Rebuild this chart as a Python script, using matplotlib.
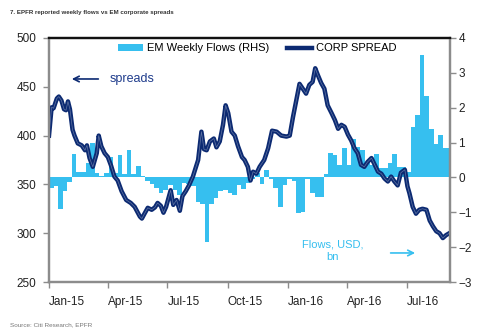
import matplotlib
matplotlib.use("Agg")
import matplotlib.pyplot as plt
import matplotlib.dates as mdates
import pandas as pd
import numpy as np

# ---- data -------------------------------------------------------------
# Weekly EM fund flows, USD bn (right-hand scale); one value per week from 1 Jan 2015
flow_start = "2015-01-01"
weekly_flows = [
    -0.30, -0.25, -0.90, -0.40, -0.12, 0.68, 0.15, 0.15, 0.40, 0.98,
    0.12, 0.03, 0.12, 0.60, 0.12, 0.64, 0.10, 0.80, 0.10, 0.32,
    0.05, -0.10, -0.20, -0.30, -0.45, -0.35, -0.22, -0.35, -0.50, -0.15,
    -0.20, -0.25, -0.70, -0.75, -1.85, -0.75, -0.60, -0.40, -0.36, -0.45,
    -0.50, -0.22, -0.32, -0.17, -0.05, 0.12, -0.18, 0.20, -0.05, -0.30,
    -0.86, -0.22, -0.05, -0.10, -1.02, -0.98, -0.05, -0.45, -0.55, -0.55,
    0.11, 0.70, 0.64, 0.35, 0.84, 0.35, 1.10, 0.86, 0.80, 0.40,
    0.35, 0.68, 0.26, 0.28, 0.40, 0.66, 0.30, 0.30, 0.15, 1.45,
    1.80, 3.50, 2.35, 1.40, 0.95, 1.22, 0.85, 0.85,
]

# EM corporate spread (bp, left-hand scale)
spread_dates = [
    "2015-01-01", "2015-01-05", "2015-01-08", "2015-01-13", "2015-01-16", "2015-01-20",
    "2015-01-24", "2015-01-27", "2015-01-30", "2015-02-02", "2015-02-06", "2015-02-09",
    "2015-02-14", "2015-02-20", "2015-02-25", "2015-02-28", "2015-03-04", "2015-03-09",
    "2015-03-15", "2015-03-18", "2015-03-22", "2015-03-27", "2015-04-01", "2015-04-06",
    "2015-04-11", "2015-04-16", "2015-04-22", "2015-04-29", "2015-05-06", "2015-05-12",
    "2015-05-20", "2015-05-23", "2015-05-27", "2015-06-01", "2015-06-07", "2015-06-12",
    "2015-06-16", "2015-06-21", "2015-06-25", "2015-06-29", "2015-07-06", "2015-07-10",
    "2015-07-15", "2015-07-20", "2015-07-24", "2015-07-29", "2015-08-03", "2015-08-09",
    "2015-08-17", "2015-08-22", "2015-08-26", "2015-08-30", "2015-09-04", "2015-09-10",
    "2015-09-14", "2015-09-19", "2015-09-24", "2015-09-28", "2015-10-02", "2015-10-07",
    "2015-10-12", "2015-10-17", "2015-10-23", "2015-10-27", "2015-11-01", "2015-11-05",
    "2015-11-09", "2015-11-14", "2015-11-19", "2015-11-26", "2015-12-02", "2015-12-08",
    "2015-12-15", "2015-12-22", "2015-12-30", "2016-01-04", "2016-01-09", "2016-01-14",
    "2016-01-19", "2016-01-24", "2016-01-29", "2016-02-03", "2016-02-08", "2016-02-12",
    "2016-02-16", "2016-02-21", "2016-02-26", "2016-03-02", "2016-03-08", "2016-03-13",
    "2016-03-18", "2016-03-23", "2016-03-28", "2016-04-02", "2016-04-07", "2016-04-12",
    "2016-04-17", "2016-04-22", "2016-04-27", "2016-05-02", "2016-05-08", "2016-05-13",
    "2016-05-18", "2016-05-23", "2016-05-28", "2016-06-02", "2016-06-07", "2016-06-12",
    "2016-06-17", "2016-06-22", "2016-06-28", "2016-07-02", "2016-07-05", "2016-07-10",
    "2016-07-15", "2016-07-20", "2016-07-25", "2016-07-31", "2016-08-05", "2016-08-10",
    "2016-08-15", "2016-08-20", "2016-08-25", "2016-08-30", "2016-09-04",
]
spread_values = [
    400, 429, 428, 438, 440, 436,
    427, 426, 435, 427, 406, 400,
    392, 390, 385, 390, 377, 368,
    382, 400, 389, 382, 378, 369,
    358, 354, 343, 334, 331, 327,
    317, 315, 320, 326, 324, 326.5,
    331, 328, 321, 327, 344, 329,
    334, 323, 338, 343, 349, 358,
    375, 404, 386, 385, 394, 397,
    388, 394, 411, 431, 423, 404,
    400, 389, 378, 375, 368, 354,
    363, 361, 368, 375, 387, 405,
    404, 400, 399, 400, 419, 436,
    453, 448, 443, 452, 455, 469,
    462, 454, 448, 431, 423, 416,
    407, 411, 409, 401, 395, 387,
    382, 370, 368, 373, 377, 370,
    363, 361, 356, 353, 358, 353,
    349, 362, 365, 348, 341, 327,
    320, 324, 325, 324, 313, 307,
    302, 300, 295, 298, 300,
]

quarter_ticks = ["2015-01-01", "2015-04-01", "2015-07-01", "2015-10-01",
                 "2016-01-01", "2016-04-01", "2016-07-01"]
quarter_labels = ["Jan-15", "Apr-15", "Jul-15", "Oct-15", "Jan-16", "Apr-16", "Jul-16"]
x_start, x_end = "2015-01-01", "2016-09-05"

# ---- styling ----------------------------------------------------------
BAR_BLUE = "#36BFEF"
NAVY = "#0C2A72"
GREY = "#8C8C8C"
plt.rcParams["font.family"] = ["Liberation Sans", "DejaVu Sans"]

fig = plt.figure(figsize=(4.88, 3.35), dpi=100)
ax = fig.add_axes([0.1004, 0.1582, 0.8217, 0.7284])
ax2 = ax.twinx()

# bars on the right-hand axis, drawn behind the spread line
week_dates = pd.date_range(flow_start, periods=len(weekly_flows), freq="7D")
ax2.bar(mdates.date2num(week_dates), weekly_flows, width=7, align="edge",
        color=BAR_BLUE, linewidth=0, label="EM Weekly Flows (RHS)")
ax2.set_ylim(-3, 4)
ax2.set_yticks(range(-3, 5))

sd = mdates.date2num(pd.to_datetime(spread_dates))
ax.plot(sd, spread_values, color=NAVY, lw=3.2, solid_joinstyle="round",
        label="CORP SPREAD")
ax.plot(sd, spread_values, color="white", lw=0.5, alpha=0.35)
ax.set_ylim(250, 500)
ax.set_yticks(range(250, 501, 50))
ax.set_zorder(ax2.get_zorder() + 1)
ax.patch.set_visible(False)

ax.set_xlim(mdates.date2num(pd.Timestamp(x_start)), mdates.date2num(pd.Timestamp(x_end)))
ax.set_xticks(mdates.date2num(pd.to_datetime(quarter_ticks)))
ax.set_xticklabels(quarter_labels, ha="left")

for a in (ax, ax2):
    for side in ("left", "right", "bottom"):
        a.spines[side].set_color(GREY)
        a.spines[side].set_linewidth(1.6)
    a.spines["top"].set_color("#111111")
    a.spines["top"].set_linewidth(1.6)

ax.tick_params(axis="y", which="major", length=4, width=1, color=GREY,
               labelsize=8.5, pad=5, labelcolor="#222222")
ax.tick_params(axis="x", which="major", length=4, width=1, color=GREY,
               labelsize=8.5, pad=6, labelcolor="#222222")
ax2.tick_params(axis="y", length=4, width=1, color=GREY, labelsize=8.5,
                pad=2, labelcolor="#222222")

# legend across the top of the plot
h1, l1 = ax2.get_legend_handles_labels()
h2, l2 = ax.get_legend_handles_labels()
leg = ax.legend(h1 + [h2[0]], l1 + [l2[0]], ncol=2, frameon=False,
                loc="upper left", bbox_to_anchor=(0.155, 1.005),
                fontsize=8, handlelength=2.3, handletextpad=0.3,
                columnspacing=1.6, borderaxespad=0.2)

# direction hints
ax.annotate("", xy=(0.05, 0.832), xytext=(0.13, 0.832), xycoords="axes fraction",
            arrowprops=dict(arrowstyle="->", color=NAVY, lw=1.2))
ax.text(0.152, 0.832, "spreads", transform=ax.transAxes, color="#1F3C8C",
        fontsize=9, ha="left", va="center")
ax.text(0.708, 0.127, "Flows, USD,\nbn", transform=ax.transAxes, color=BAR_BLUE,
        fontsize=8, ha="center", va="center", linespacing=1.35)
ax.annotate("", xy=(0.92, 0.119), xytext=(0.845, 0.119), xycoords="axes fraction",
            arrowprops=dict(arrowstyle="->", color=BAR_BLUE, lw=1.2))

fig.text(0.02, 0.963, "7. EPFR reported weekly flows vs EM corporate spreads",
         fontsize=4.4, fontweight="bold", color="#333333", ha="left", va="center")
fig.text(0.02, 0.03, "Source: Citi Research, EPFR", fontsize=4.6,
         color="#777777", ha="left", va="center")

fig.savefig("out.png", dpi=100)
